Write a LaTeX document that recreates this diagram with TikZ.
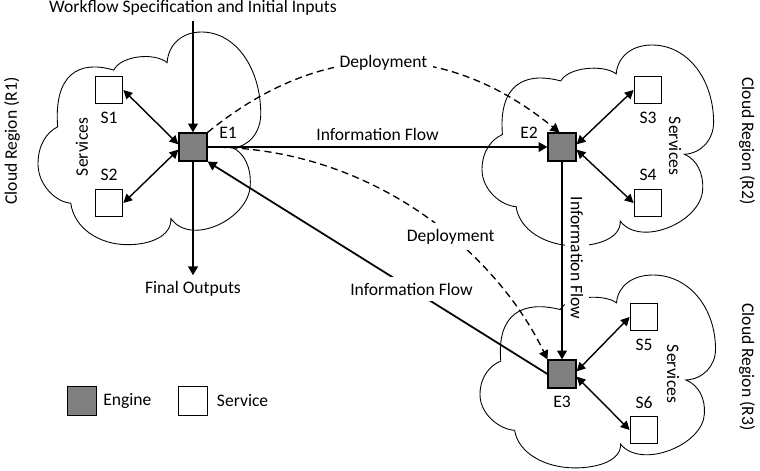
\documentclass[tikz,border=0pt]{standalone}
\usepackage{fontspec}
\setmainfont{Carlito}
\usetikzlibrary{arrows.meta,positioning}
\definecolor{enggray}{HTML}{808080}
\tikzset{
  engnode/.style={rectangle,draw=black,fill=enggray,minimum size=0.56cm,
    inner sep=0pt,line width=0.7pt},
  svcnode/.style={rectangle,draw=black,fill=white,minimum size=0.55cm,
    inner sep=0pt,line width=0.7pt},
  cloudline/.style={draw=black,line width=0.5pt},
  lbl/.style={font=\fontsize{10}{12}\selectfont,text=black},
  flowedge/.style={-{Triangle[length=5pt,width=5.5pt]},line width=1pt},
  svcedge/.style={{Triangle[length=5pt,width=5pt]}-{Triangle[length=5pt,width=5pt]},
    line width=0.8pt},
  depedge/.style={-{Triangle[length=5pt,width=5.5pt]},line width=0.75pt,
    dash pattern=on 4pt off 2.5pt},
}
% cloud outline in a 100x100 box: left, top, width, height
\newcommand{\regioncloud}[4]{%
  \pgfmathsetlengthmacro\cldx{#3*0.0002cm}%
  \pgfmathsetlengthmacro\cldy{-#4*0.0002cm}%
  \begin{scope}[shift={(#1,#2)},x=\cldx,y=\cldy]
    \draw[cloudline] (8.75,44.6)
      .. controls (7,20) and (18,13) .. (33.75,17.9)
      .. controls (37,11) and (52,9.5) .. (57.5,14.4)
      .. controls (58,6) and (64,0) .. (72.8,0)
      .. controls (88,0) and (99.2,17) .. (99.2,38.5)
      .. controls (99.2,47) and (94,54) .. (86.7,54.4)
      .. controls (92,57) and (95,64) .. (94.5,72)
      .. controls (94,88) and (68,101) .. (59.2,87.7)
      .. controls (59.5,96) and (50,100) .. (40,100)
      .. controls (27,100) and (16,92) .. (14.6,80.5)
      .. controls (8,80) and (0,72) .. (0,62)
      .. controls (0,53) and (4,47) .. cycle;
  \end{scope}}

\begin{document}
\begin{tikzpicture}[x=0.02cm,y=-0.02cm]
  \useasboundingbox (0,0) rectangle (760,470);
  % cloud regions
  \regioncloud{38}{32}{227}{215}
  \regioncloud{482}{45}{236}{203}
  \regioncloud{480}{275}{240}{195}
  \node[lbl,rotate=90] (R1lab) at (12,141) {Cloud Region (R1)};
  \node[lbl,rotate=-90] (R2lab) at (747,141) {Cloud Region (R2)};
  \node[lbl,rotate=-90] (R3lab) at (747,367) {Cloud Region (R3)};
  \node[lbl,rotate=90] (R1svc) at (82,147) {Services};
  \node[lbl,rotate=-90] (R2svc) at (675,146) {Services};
  \node[lbl,rotate=-90] (R3svc) at (673,374) {Services};

  % engines and services
  \node[engnode] (E1) at (193,147) {};
  \node[engnode] (E2) at (562,147) {};
  \node[engnode] (E3) at (562,374) {};
  \node[svcnode] (S1) at (109,90) {};
  \node[svcnode] (S2) at (109,203) {};
  \node[svcnode] (S3) at (648,90) {};
  \node[svcnode] (S4) at (648,203) {};
  \node[svcnode] (S5) at (644,317) {};
  \node[svcnode] (S6) at (644,430) {};
  \node[lbl] (E1lab) at (228,133) {E1};
  \node[lbl] (E2lab) at (529,133) {E2};
  \node[lbl] (E3lab) at (562,402) {E3};
  \node[lbl] (S1lab) at (109,118) {S1};
  \node[lbl] (S2lab) at (109,175) {S2};
  \node[lbl] (S3lab) at (648,118) {S3};
  \node[lbl] (S4lab) at (648,175) {S4};
  \node[lbl] (S5lab) at (644,345) {S5};
  \node[lbl] (S6lab) at (644,403) {S6};

  % inputs and outputs
  \node[lbl,anchor=base] (wfin) at (193,12) {Workflow Specification and Initial Inputs};
  \node[lbl] (fout) at (193,289) {Final Outputs};
  \draw[flowedge] (wfin) -- (E1);
  \draw[flowedge] (E1) -- (fout);

  % engine to service
  \draw[svcedge] (S1.east) -- ([yshift=1.5pt]E1.west);
  \draw[svcedge] (S2.east) -- ([yshift=-1.5pt]E1.west);
  \draw[svcedge] (S3.west) -- ([yshift=1.5pt]E2.east);
  \draw[svcedge] (S4.west) -- ([yshift=-1.5pt]E2.east);
  \draw[svcedge] (S5.west) -- ([yshift=1.5pt]E3.east);
  \draw[svcedge] (S6.west) -- ([yshift=-1.5pt]E3.east);

  % information flow
  \draw[flowedge] (E1) -- node[lbl,above] {Information Flow} (E2);
  \node[lbl,rotate=-90,fill=white] (vflow) at (577,258) {Information Flow};
  \draw[flowedge] (E2) -- (E3);
  \draw[flowedge] (E3.west) -- node[lbl,fill=white,pos=0.4] {Information Flow} (E1.south east);

  % deployment
  \draw[depedge] (E1.north east) .. controls (322,39) and (445,39) ..
    node[lbl,fill=white] {Deployment} ([xshift=-1.5pt]E2.north);
  \draw[depedge] (E1.east) .. controls (380,147) and (500,260) ..
    node[lbl,fill=white,pos=0.58] {Deployment} (E3.north west);

  % legend
  \node[engnode,minimum size=0.58cm] (legE) at (82,401) {};
  \node[lbl,right=0pt of legE] (legEtxt) {Engine};
  \node[svcnode,minimum size=0.58cm] (legS) at (193,401) {};
  \node[lbl,right=1.5pt of legS] (legStxt) {Service};
\end{tikzpicture}
\end{document}
